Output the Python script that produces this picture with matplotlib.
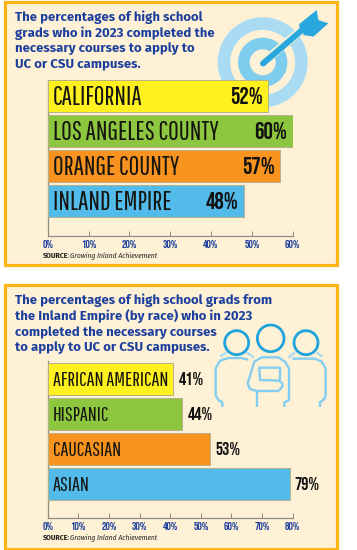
import numpy as np
import matplotlib
matplotlib.use('Agg')
from matplotlib import pyplot as plt
from matplotlib.patches import Circle, Polygon, Rectangle

W, H = 357, 550

# ----- data -----
top_title = 'The percentages of high school\ngrads who in 2023 completed the\nnecessary courses to apply to\nUC or CSU campuses.'
top_names = ['CALIFORNIA', 'LOS ANGELES COUNTY', 'ORANGE COUNTY', 'INLAND EMPIRE']
top_bars = [54, 60, 57, 48]     # the california bar is drawn longer than its 52% label
top_labels = ['52%', '60%', '57%', '48%']
top_ticks = [0, 10, 20, 30, 40, 50, 60]

low_title = 'The percentages of high school grads from\nthe Inland Empire (by race) who in 2023\ncompleted the necessary courses\nto apply to UC or CSU campuses.'
low_names = ['AFRICAN AMERICAN', 'HISPANIC', 'CAUCASIAN', 'ASIAN']
low_bars = [41, 44, 53, 79]
low_labels = ['41%', '44%', '53%', '79%']
low_ticks = [0, 10, 20, 30, 40, 50, 60, 70, 80]

bar_colors = ['#fff01f', '#8dc63f', '#f7931e', '#52bbea']
navy = '#1c3f9e'
cream = '#fef1d6'
gold = '#fdb515'
thin = ['Pathway Gothic One', 'Fira Sans Extra Condensed', 'DejaVu Sans']
narrow = ['Bebas Neue', 'Fira Sans Extra Condensed', 'DejaVu Sans']
head = ['Fira Sans', 'DejaVu Sans']
small = ['Fira Sans Condensed', 'DejaVu Sans']

fig = plt.figure(figsize=(W / 100, H / 100), dpi=100, facecolor='white')

# overlay in pixel coords for panels + icons
bg = fig.add_axes([0, 0, 1, 1])
bg.set_xlim(0, W)
bg.set_ylim(H, 0)
bg.axis('off')


def make_panel(y0, y1):
    bg.add_patch(Rectangle((5.2, y0), 332, y1 - y0, fc=cream, ec=gold, lw=2.3))


def px_axes(x0, x1, y0, y1):
    return fig.add_axes([x0 / W, 1 - y1 / H, (x1 - x0) / W, (y1 - y0) / H])


def icon_line(pts, color, lw, ox, oy):
    pts = np.array(pts) / 3 + [ox, oy]
    bg.plot(pts[:, 0], pts[:, 1], color=color, lw=lw, solid_capstyle='butt', solid_joinstyle='round')


def draw_bars(ax, names, bars, labels, ticks, inside, name_size, val_size, first, pitch, height, bottom):
    ax.set_xlim(0, ticks[-1])
    ax.set_ylim(bottom, 0)
    ax.patch.set_alpha(0)
    ys = [first + pitch * i for i in range(len(bars))]
    ax.barh(ys, bars, height=height, color=bar_colors, edgecolor='#b5b08a', linewidth=0.7, zorder=3)
    for y, name, b, lab in zip(ys, names, bars, labels):
        ax.annotate(name, (0, y), xytext=(3.8, 0.6), textcoords='offset points', va='center_baseline', ha='left',
                    family=thin, fontsize=name_size, color='#15150f', zorder=4)
        if inside:
            ax.annotate(lab, (b, y), xytext=(-4, 0.6), textcoords='offset points', va='center_baseline', ha='right',
                        family=narrow, fontsize=val_size, color='#111111', zorder=4)
        else:
            ax.annotate(lab, (b, y), xytext=(3.6, 0.6), textcoords='offset points', va='center_baseline', ha='left',
                        family=narrow, fontsize=val_size, color='#111111', zorder=4)
    for s in ['top', 'right']:
        ax.spines[s].set_visible(False)
    for s in ['left', 'bottom']:
        ax.spines[s].set_color('#8d8d80')
        ax.spines[s].set_linewidth(0.9)
    ax.set_yticks([])
    ax.set_xticks(ticks)
    ax.set_xticklabels([f'{t}%' for t in ticks], family=narrow, fontsize=8, color=navy)
    ax.tick_params(axis='x', direction='in', length=3.5, width=0.7, color='#8d8d80', pad=3)


def source(y):
    bg.text(43, y, 'SOURCE:', family=small, weight='bold', fontsize=5.6, color='#222222', va='center')
    bg.text(70.5, y, 'Growing Inland Achievement', family=small, style='italic', fontsize=5.4,
            color='#222222', va='center')


# ----- top panel -----
make_panel(1.5, 265)
cx, cy = 262.7, 62.3
for r, c in [(45, '#a9dcf3'), (32.5, cream), (24.7, '#7fcdee'), (13, cream)]:
    bg.add_patch(Circle((cx, cy), r, fc=c, ec='none'))
bg.plot([272, 298], [55, 33], color=cream, lw=6)
bg.plot([263, 301], [63.5, 31], color='#29a8e0', lw=4.3, solid_capstyle='round')
arrow_tail = np.array([(283, 72), (335, 30), (340, 60), (370, 70), (325, 110), (295, 105), (283, 85)]) / 3 + [205, 0]
bg.add_patch(Polygon(arrow_tail, fc='#29a8e0', ec='none'))
bg.text(15, 40.5, top_title, family=head, weight='bold', fontsize=9.5, color=navy, va='center',
        linespacing=1.24, ha='left')
ax1 = px_axes(47.7, 292.7, 80, 236)
draw_bars(ax1, top_names, top_bars, top_labels, top_ticks, True, 18.6, 17, 16, 35, 31.5, 156)
source(255.7)

# ----- lower panel -----
make_panel(284.8, 549)
bg.text(15, 323.5, low_title, family=head, weight='bold', fontsize=9.5, color=navy, va='center',
        linespacing=1.24, ha='left')

# people icon
ring = '#1fa3dd'
body = '#83cdf0'
pale = '#a9dcf3'
ox, oy = 205, 315
for x, y, r in [(95, 83, 36), (197, 70, 40), (303, 83, 36)]:
    bg.add_patch(Circle((x / 3 + ox, y / 3 + oy), r / 3, fc='none', ec=ring, lw=2))
for seg in [[(45, 125), (65, 112)], [(125, 112), (147, 128)], [(250, 128), (270, 112)], [(335, 112), (352, 125)]]:
    icon_line(seg, pale, 1.7, ox, oy)
icon_line([(52, 276), (52, 262), (40, 255), (32, 240), (32, 160), (45, 137), (70, 129), (110, 129), (130, 134)], body, 1.7, ox, oy)
icon_line([(345, 276), (345, 262), (358, 252), (362, 240), (362, 160), (350, 140), (330, 131), (262, 131)], body, 1.7, ox, oy)
icon_line([(238, 276), (238, 262), (252, 255), (252, 160), (240, 140), (220, 127), (170, 127), (148, 140),
           (128, 205), (135, 222), (155, 228), (220, 228), (232, 215), (232, 205), (222, 197), (165, 195),
           (163, 158), (225, 158), (225, 195)], body, 1.7, ox, oy)
icon_line([(155, 228), (155, 276)], body, 1.7, ox, oy)

ax2 = px_axes(47.7, 292.7, 361, 518)
draw_bars(ax2, low_names, low_bars, low_labels, low_ticks, False, 14.4, 13, 18, 35, 31.5, 157)
source(538.3)

fig.savefig('out.png', dpi=100)
